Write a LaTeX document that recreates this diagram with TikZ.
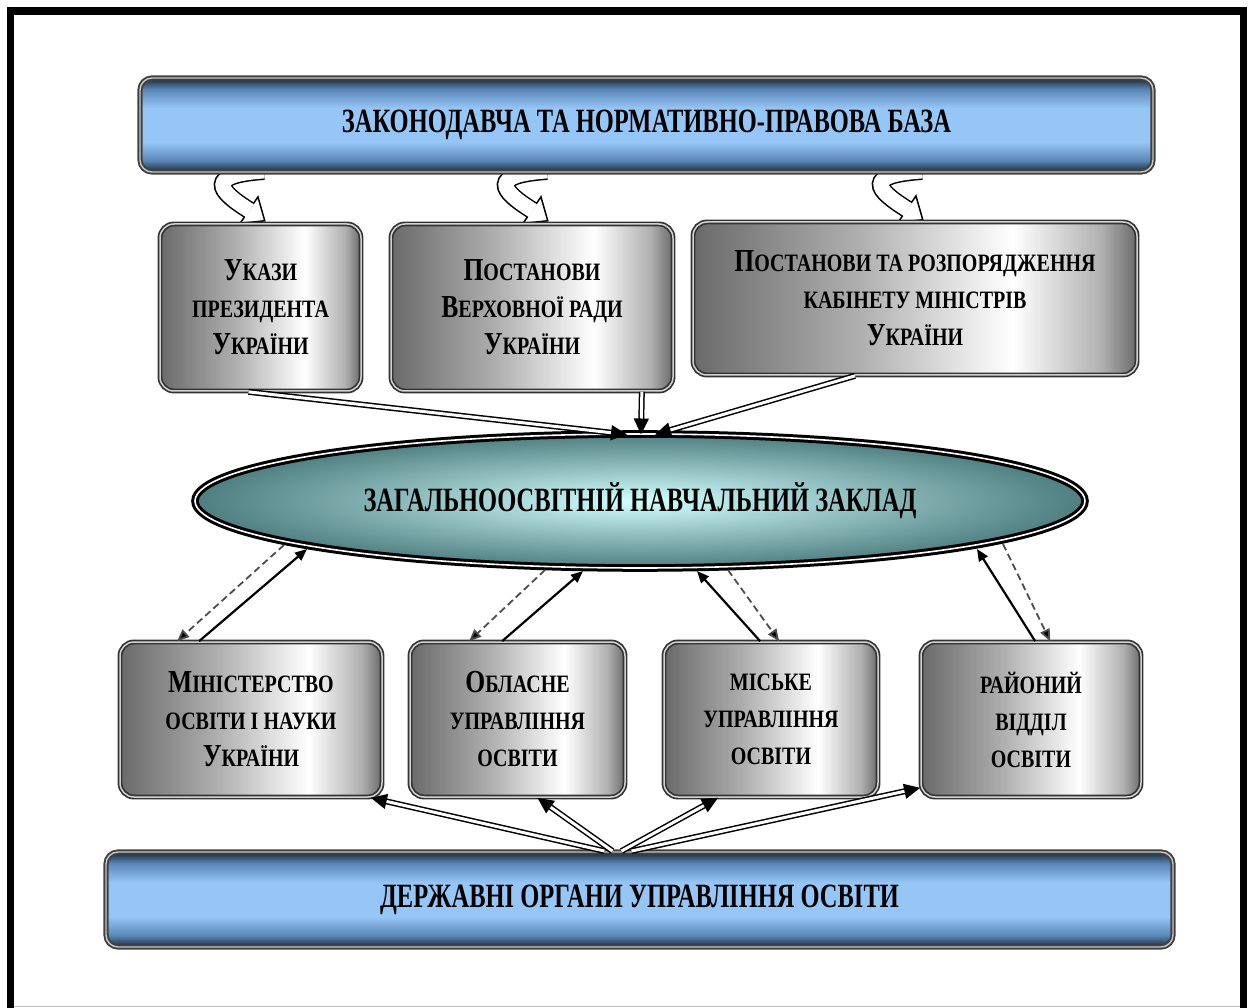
\documentclass[tikz,border=0pt]{standalone}
\usepackage{fontspec}
\setmainfont{Liberation Serif}
\newfontfamily\barfont{Liberation Serif}[FakeStretch=0.72]
\newfontfamily\boxfont{Liberation Serif}[FakeStretch=0.8]
\usetikzlibrary{shapes.geometric,arrows.meta,calc,backgrounds}
\definecolor{bdk}{HTML}{1B2638}
\definecolor{bmid}{HTML}{5A86B6}
\definecolor{blt}{HTML}{96C6F6}
\definecolor{gdk}{HTML}{6A6A6A}
\definecolor{gmd}{HTML}{B0B0B0}
\definecolor{tdk}{HTML}{4F7E80}
\definecolor{tlt}{HTML}{D2FFFF}
\pgfdeclareverticalshading{barshade}{100bp}{color(0bp)=(bdk); color(25bp)=(bdk); color(31bp)=(bmid); color(41bp)=(blt); color(59bp)=(blt); color(69bp)=(bmid); color(75bp)=(bdk); color(100bp)=(bdk)}
\pgfdeclarehorizontalshading{boxshade}{100bp}{color(0bp)=(gdk); color(25bp)=(gdk); color(44bp)=(gmd); color(61bp)=(white); color(71bp)=(gmd); color(75bp)=(gdk); color(100bp)=(gdk)}
\newcommand\BG[1]{{\fontsize{32}{37}\selectfont #1}}
\newcommand\SM[1]{{\fontsize{25}{37}\selectfont #1}}
\newcommand\blockarrow[3]{%
  \draw[line width=18pt,black] (#1) .. controls +(-58,4) and +(-32,-20) .. (#2);
  \begin{scope}[shift={(#2)},rotate=-#3]
    \filldraw[fill=white,draw=black,line width=1.5pt] (0,-16)--(19,0)--(0,16)--cycle;
  \end{scope}
  \draw[line width=15pt,white,shorten >=-1pt] (#1) .. controls +(-58,4) and +(-32,-20) .. (#2);
}
\begin{document}
\begin{tikzpicture}[x=1pt,y=-1pt,
  bar/.style={rectangle, rounded corners=12pt, shade, shading=barshade, draw=black!75, double=gray!45, double distance=1.4pt, line width=1.9pt, inner sep=0pt, font=\barfont\bfseries\fontsize{34}{38}\selectfont},
  box/.style={rectangle, rounded corners=14pt, shade, shading=boxshade, draw=black!80, double=gray!35, double distance=1.5pt, line width=1.7pt, inner sep=0pt, align=center, font=\boxfont\bfseries\fontsize{25}{37}\selectfont},
  school/.style={ellipse, inner color=tlt, outer color=tdk, draw=black, double=white, double distance=1.6pt, line width=3pt, inner sep=0pt, font=\barfont\bfseries\fontsize{34}{38}\selectfont},
  dbl/.style={draw=black, double=white, double distance=3pt, line width=1.5pt, -{Triangle[length=16pt,width=15pt]}},
  up/.style={draw=black, line width=2.2pt, -{Triangle[length=12pt,width=10pt]}},
  down/.style={draw=black!70, line width=1.8pt, dash pattern=on 7pt off 4pt, -{Triangle[length=12pt,width=10pt,fill=black]}}
]
\useasboundingbox (0,0) rectangle (1254,1008);
% frame
\draw[line width=7.5pt] (10.5,1008) -- (10.5,11) -- (1243.5,11) -- (1243.5,1008);
\draw[gray!50, line width=1pt] (14,1006) -- (1240,1006);

% nodes
\node[bar, minimum width=1013pt, minimum height=94pt] (law) at (646.5,125) {ЗАКОНОДАВЧА ТА НОРМАТИВНО-ПРАВОВА БАЗА};
\node[box, minimum width=201pt, minimum height=167pt] (a) at (260.5,307.5) {\BG{У}\SM{КАЗИ}\\\SM{ПРЕЗИДЕНТА}\\\BG{У}\SM{КРАЇНИ}};
\node[box, minimum width=282pt, minimum height=167pt] (b) at (532,307.5) {\BG{П}\SM{ОСТАНОВИ}\\\BG{В}\SM{ЕРХОВНОЇ РАДИ}\\\BG{У}\SM{КРАЇНИ}};
\node[box, minimum width=444pt, minimum height=153pt] (c) at (915,298.5) {\BG{П}\SM{ОСТАНОВИ ТА РОЗПОРЯДЖЕННЯ}\\\SM{КАБІНЕТУ МІНІСТРІВ}\\\BG{У}\SM{КРАЇНИ}};
\node[school, minimum width=890pt, minimum height=134pt] (school) at (640,501) {ЗАГАЛЬНООСВІТНІЙ НАВЧАЛЬНИЙ ЗАКЛАД};
\node[box, minimum width=262pt, minimum height=155pt] (d) at (251,719.5) {\BG{М}\SM{ІНІСТЕРСТВО}\\\SM{ОСВІТИ І НАУКИ}\\\BG{У}\SM{КРАЇНИ}};
\node[box, minimum width=215pt, minimum height=155pt] (e) at (517.5,719.5) {\BG{О}\SM{БЛАСНЕ}\\\SM{УПРАВЛІННЯ}\\\SM{ОСВІТИ}};
\node[box, minimum width=214pt, minimum height=155pt] (f) at (771,719.5) {\SM{МІСЬКЕ}\\\SM{УПРАВЛІННЯ}\\\SM{ОСВІТИ}};
\node[box, minimum width=220pt, minimum height=155pt] (g) at (1031,719.5) {\SM{РАЙОНИЙ}\\\SM{ВІДДІЛ}\\\SM{ОСВІТИ}};
\node[bar, minimum width=1067pt, minimum height=95pt] (state) at (639.5,899.5) {ДЕРЖАВНІ ОРГАНИ УПРАВЛІННЯ ОСВІТИ};

% curved block arrows
\begin{pgfonlayer}{background}
\blockarrow{$(law.south)+(-382.5,-2)$}{$(a.north)+(-11.5,-13)$}{34}
\blockarrow{$(law.south)+(-99.5,-2)$}{$(b.north)+(0,-13)$}{34}
\blockarrow{$(law.south)+(275.5,-2)$}{$(c.north)+(-8,-12)$}{34}
\end{pgfonlayer}

% to school
\draw[dbl] ($(a.south)+(-12,0)$) -- ($(school.north)+(-13,2)$);
\draw[dbl] ($(b.south east)+(-32,0)$) -- ($(school.north)+(1,2)$);
\draw[dbl] ($(c.south)+(-60,0)$) -- ($(school.north)+(15,2)$);

% between school and bodies
\draw[up] ($(d.north west)+(80,0)$) -- ($(school.center)+(-333,48)$);
\draw[down] ($(school.center)+(-356,44)$) -- ($(d.north west)+(58,0)$);
\draw[up] ($(e.north west)+(93,0)$) -- ($(school.center)+(-57,70)$);
\draw[down] ($(school.center)+(-95,69)$) -- ($(e.north west)+(60,0)$);
\draw[up] ($(f.north west)+(97,0)$) -- ($(school.center)+(57,70)$);
\draw[down] ($(school.center)+(88,69)$) -- ($(f.north west)+(116,0)$);
\draw[up] ($(g.north west)+(115,0)$) -- ($(school.center)+(337,48)$);
\draw[down] ($(school.center)+(363,43)$) -- ($(g.north west)+(130,0)$);

% from state bodies
\draw[dbl] ($(state.north)+(-35,0)$) -- ($(d.south east)+(-12,0)$);
\draw[dbl] ($(state.north)+(-27,0)$) -- ($(e.south)+(20,0)$);
\draw[dbl] ($(state.north)+(-18,0)$) -- ($(f.south)+(-53,0)$);
\draw[dbl] ($(state.north)+(-8,0)$) -- ($(g.south west)+(0,-10)$);
\end{tikzpicture}
\end{document}
